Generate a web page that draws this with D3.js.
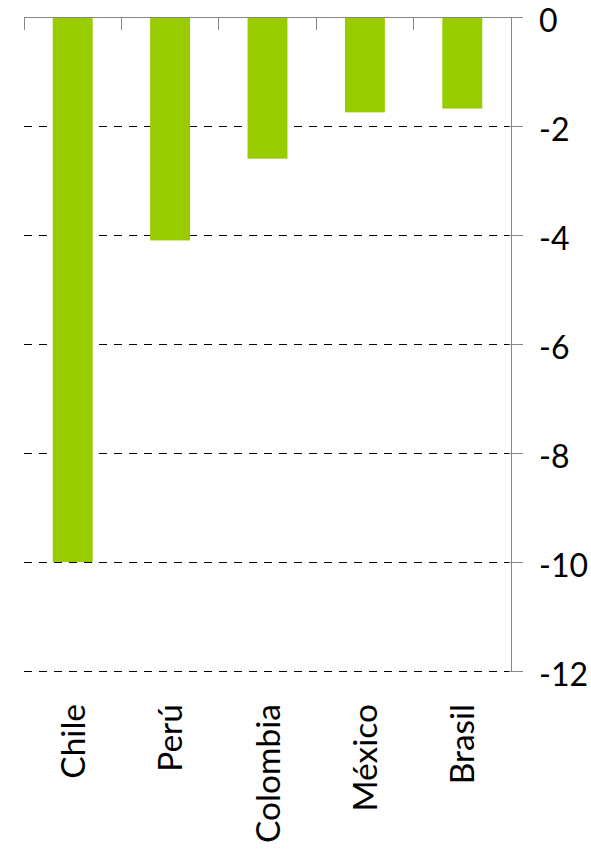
<!DOCTYPE html>
<html><head><meta charset="utf-8">
<script src="https://cdn.jsdelivr.net/npm/d3@7"></script>
<style>body{margin:0;background:#fff}text{font-family:Lato,"Open Sans",sans-serif}</style>
</head><body>
<svg id="c" width="591" height="853"></svg>
<script>
const categories = ["Chile","Perú","Colombia","México","Brasil"];
const values = [-10.0,-4.1,-2.6,-1.75,-1.68];
const yTicks = [0,-2,-4,-6,-8,-10,-12];

const svg = d3.select("#c");
const mLeft = 24, mRight = 511, mTop = 17, mBottom = 671;
const x = d3.scaleBand().domain(categories).range([mLeft,mRight]).paddingInner(0.59).paddingOuter(0.295);
const y = d3.scaleLinear().domain([0,-12]).range([mTop,mBottom]);

// gridlines
svg.append("g").selectAll("line").data(yTicks.filter(d=>d!==0)).join("line")
  .attr("x1",mLeft).attr("x2",mRight).attr("y1",d=>y(d)).attr("y2",d=>y(d))
  .attr("stroke","#000").attr("stroke-width",1).attr("stroke-dasharray","8,7")
  .attr("shape-rendering","crispEdges");

// bars
svg.append("g").selectAll("rect").data(values).join("rect")
  .attr("x",(d,i)=>x(categories[i])).attr("width",x.bandwidth())
  .attr("y",y(0)).attr("height",d=>y(d)-y(0)).attr("fill","#99CC00");

// right axis
const yAxis = d3.axisRight(y).tickValues(yTicks).tickSize(12).tickPadding(16).tickFormat(d=>String(d));
const ga = svg.append("g").attr("transform",`translate(${mRight},0)`).call(yAxis);
ga.select(".domain").attr("stroke","#868686").attr("d",`M0,${mTop}V${mBottom}`).attr("shape-rendering","crispEdges");
ga.selectAll(".tick line").attr("stroke","#868686").attr("x1",-2).attr("shape-rendering","crispEdges");
ga.selectAll(".tick text").attr("font-size",32).attr("fill","#000").attr("dy","0.45em")
  .attr("font-family","Lato,'Open Sans',sans-serif");

// top category axis
const gt = svg.append("g").attr("shape-rendering","crispEdges");
gt.append("line").attr("x1",mLeft).attr("x2",mRight+12).attr("y1",y(0)).attr("y2",y(0)).attr("stroke","#868686");
const bx = categories.map((c,i)=>mLeft + i*x.step());
bx.push(mRight);
gt.selectAll("line.t").data(bx).join("line").attr("class","t")
  .attr("x1",d=>d).attr("x2",d=>d).attr("y1",y(0)).attr("y2",y(0)+13).attr("stroke","#868686");

// category labels
svg.append("g").selectAll("text").data(categories).join("text")
  .attr("transform",d=>`translate(${x(d)+x.bandwidth()/2+12},704) rotate(-90)`)
  .attr("text-anchor","end").attr("font-size",33.5).attr("fill","#000").text(d=>d);
</script>
</body></html>
